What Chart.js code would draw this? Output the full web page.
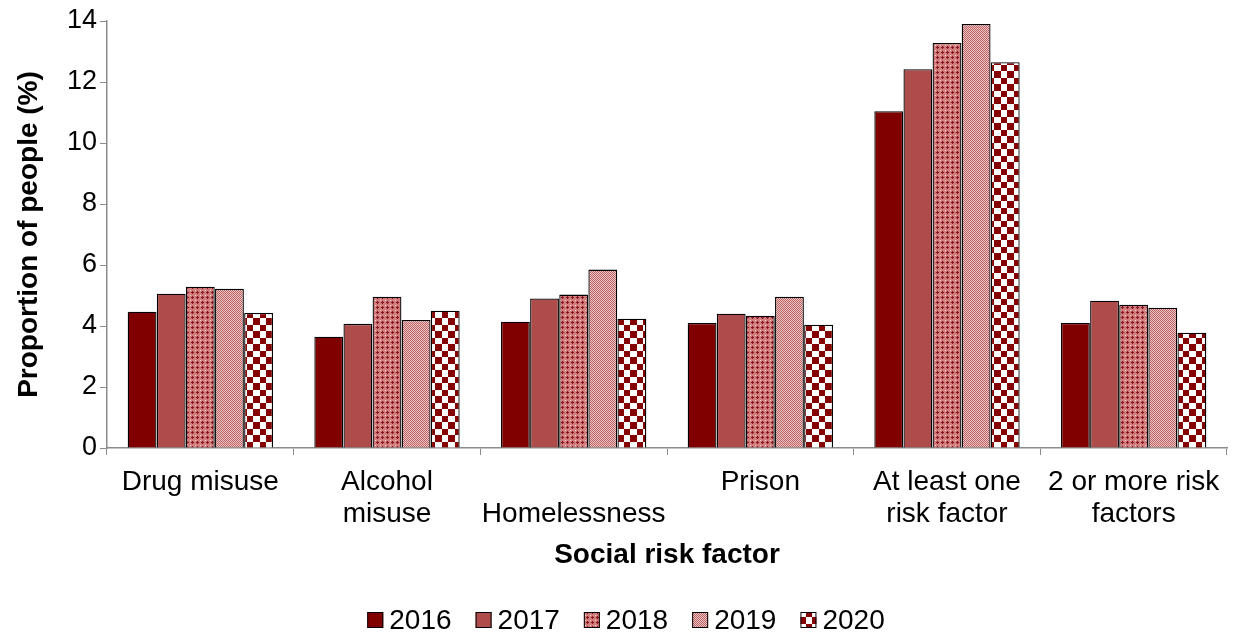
<!DOCTYPE html>
<html>
<head>
<meta charset="utf-8">
<script src="https://cdn.jsdelivr.net/npm/chart.js@4"></script>
<style>
  html, body { margin: 0; padding: 0; background: #fff; }
  #wrap { width: 1236px; height: 634px; }
</style>
</head>
<body>
<div id="wrap"><canvas id="grafico" width="1236" height="634"></canvas></div>
<script>
// Categorías y valores por año
const categorias = [
  'Drug misuse',
  ['Alcohol', 'misuse'],
  ['', 'Homelessness'],
  'Prison',
  ['At least one', 'risk factor'],
  ['2 or more risk', 'factors']
];
const anios = ['2016', '2017', '2018', '2019', '2020'];
const valores2016 = [4.47, 3.65, 4.14, 4.10, 11.04, 4.10];
const valores2017 = [5.06, 4.07, 4.90, 4.40, 12.42, 4.83];
const valores2018 = [5.29, 4.96, 5.03, 4.34, 13.28, 4.70];
const valores2019 = [5.22, 4.20, 5.85, 4.96, 13.90, 4.60];
const valores2020 = [4.43, 4.50, 4.24, 4.04, 12.65, 3.78];
const ticksY = [0, 2, 4, 6, 8, 10, 12, 14];

// Texturas de relleno
function crearPatron(tam, dibujar) {
  const c = document.createElement('canvas');
  c.width = tam; c.height = tam;
  const g = c.getContext('2d');
  dibujar(g);
  return g.createPattern(c, 'repeat');
}

const ctx = document.getElementById('grafico').getContext('2d');

const patron2018 = crearPatron(5, g => {
  g.fillStyle = '#d27c7c';
  g.fillRect(0, 0, 5, 5);
  g.fillStyle = '#861624';
  g.fillRect(2, 1, 1, 3);
  g.fillRect(1, 2, 3, 1);
  g.fillStyle = '#f5dede';
  g.fillRect(0, 0, 1, 1);
});

const patron2019 = crearPatron(2, g => {
  g.fillStyle = '#ecc6c6';
  g.fillRect(0, 0, 2, 2);
  g.fillStyle = '#bd6262';
  g.fillRect(0, 0, 1, 1);
  g.fillRect(1, 1, 1, 1);
});

const patron2020 = crearPatron(13, g => {
  g.fillStyle = '#ffffff';
  g.fillRect(0, 0, 13, 13);
  g.fillStyle = '#850000';
  g.fillRect(0, 0, 6, 6);
  g.fillRect(6, 6, 7, 7);
});

const rellenos = ['#800000', '#ae4b4b', patron2018, patron2019, patron2020];
const series = [valores2016, valores2017, valores2018, valores2019, valores2020];

const fuente = "'Liberation Sans', Arial, sans-serif";

// Leyenda inferior: cuadro pegado al texto
const leyendaAbajo = {
  id: 'leyendaAbajo',
  afterDraw(chart) {
    const c = chart.ctx;
    const caja = 16, hueco = 6, separacion = 24, yCentro = 620;
    c.save();
    c.font = '28px ' + fuente;
    c.textBaseline = 'middle';
    const items = chart.data.datasets.map(d => ({ d, w: caja + hueco + c.measureText(d.label).width }));
    const total = items.reduce((s, it) => s + it.w, 0) + separacion * (items.length - 1);
    let x = (chart.width - total) / 2 + 8;
    items.forEach(it => {
      c.fillStyle = it.d.backgroundColor;
      c.fillRect(x, yCentro - caja / 2, caja, caja);
      c.strokeStyle = '#000';
      c.lineWidth = 1;
      c.strokeRect(x + 0.5, yCentro - caja / 2 + 0.5, caja - 1, caja - 1);
      c.fillStyle = '#000';
      c.fillText(it.d.label, x + caja + hueco, yCentro + 1);
      x += it.w + separacion;
    });
    c.restore();
  }
};

new Chart(ctx, {
  type: 'bar',
  data: {
    labels: categorias,
    datasets: anios.map((a, i) => ({
      label: a,
      data: series[i],
      backgroundColor: rellenos[i],
      borderColor: '#000000',
      borderWidth: 1.3,
      borderSkipped: 'bottom',
      barPercentage: 0.99,
      categoryPercentage: 0.78
    }))
  },
  options: {
    responsive: false,
    animation: false,
    layout: { padding: { top: 21, right: 9, left: 0, bottom: 62 } },
    plugins: {
      tooltip: { enabled: false },
      legend: { display: false }
    },
    scales: {
      x: {
        grid: {
          display: true,
          drawOnChartArea: false,
          color: '#8c8c8c',
          tickLength: 7,
          offset: true
        },
        border: { color: '#8c8c8c', width: 1.5 },
        ticks: {
          color: '#000',
          font: { family: fuente, size: 28, lineHeight: 1.15 },
          maxRotation: 0,
          autoSkip: false,
          padding: 11
        },
        title: {
          display: true,
          text: 'Social risk factor',
          color: '#000',
          font: { family: fuente, size: 28, weight: 'bold' },
          padding: { top: -3, bottom: 0 }
        }
      },
      y: {
        min: 0,
        max: 14,
        afterBuildTicks: ax => { ax.ticks = ticksY.map(v => ({ value: v })); },
        grid: {
          display: true,
          drawOnChartArea: false,
          color: '#8c8c8c',
          tickLength: 7
        },
        border: { color: '#8c8c8c', width: 1.5 },
        ticks: {
          color: '#000',
          font: { family: fuente, size: 27 },
          padding: 3
        },
        title: {
          display: true,
          text: 'Proportion of people (%)',
          color: '#000',
          font: { family: fuente, size: 28, weight: 'bold' },
          padding: { top: 12, bottom: 0 }
        },
        afterFit: ax => { ax.width = 107; }
      }
    }
  },
  plugins: [leyendaAbajo]
});
</script>
</body>
</html>
